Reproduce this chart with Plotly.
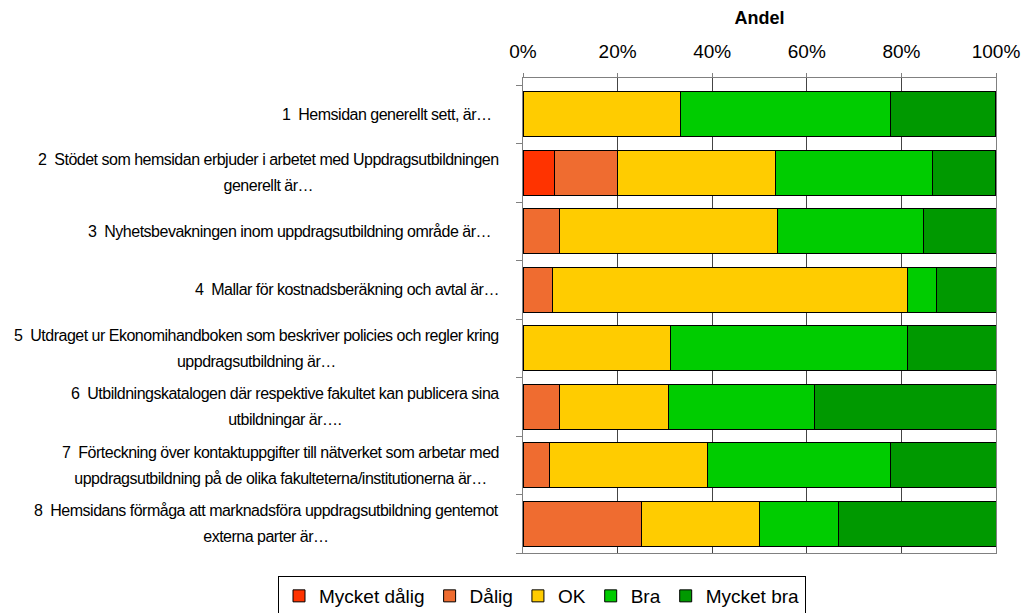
import plotly.graph_objects as go

# ---- data ----
questions = [
    "1\u00a0 Hemsidan generellt sett, är…\u00a0\u00a0",
    "2\u00a0 Stödet som hemsidan erbjuder i arbetet med Uppdragsutbildningen<br>generellt är…",
    "3\u00a0 Nyhetsbevakningen inom uppdragsutbildning område är…\u00a0\u00a0",
    "4\u00a0 Mallar för kostnadsberäkning och avtal är…",
    "5\u00a0 Utdraget ur Ekonomihandboken som beskriver policies och regler kring<br>uppdragsutbildning är…",
    "6\u00a0 Utbildningskatalogen där respektive fakultet kan publicera sina<br>utbildningar är….",
    "7\u00a0 Förteckning över kontaktuppgifter till nätverket som arbetar med<br>uppdragsutbildning på de olika fakulteterna/institutionerna är…",
    "8\u00a0 Hemsidans förmåga att marknadsföra uppdragsutbildning gentemot<br>externa parter är…",
]
series_names = ["Mycket dålig", "Dålig", "OK", "Bra", "Mycket bra"]
mycket_dalig = [None, 6.7, None, None, None, None, None, None]
dalig = [None, 13.3, 7.7, 6.25, None, 7.7, 5.6, 25.0]
ok = [33.3, 33.3, 46.2, 75.0, 31.25, 23.1, 33.3, 25.0]
bra = [44.4, 33.3, 30.8, 6.25, 50.0, 30.8, 38.9, 16.7]
mycket_bra = [22.2, 13.3, 15.4, 12.5, 18.75, 38.5, 22.2, 33.3]
x_ticks = [0, 20, 40, 60, 80, 100]
colors = ["#FF3300", "#EF6C30", "#FFCC00", "#00CC00", "#009900"]

series_values = [mycket_dalig, dalig, ok, bra, mycket_bra]
positions = list(range(len(questions)))

fig = go.Figure()
for name, vals, col in zip(series_names, series_values, colors):
    fig.add_trace(go.Bar(
        y=positions, x=vals, name=name, orientation="h",
        width=0.77,
        marker=dict(color=col, line=dict(color="#000000", width=1)),
    ))

label_font = "Liberation Sans, Arial"
for pos, q in zip(positions, questions):
    lines = q.split("<br>")
    txt = "<br>".join(
        f"<span style='font-size:16px;letter-spacing:-0.5px'>{ln}</span>" for ln in lines
    )
    fig.add_annotation(
        x=0, xref="paper", y=pos, yref="y",
        text=txt, showarrow=False, xanchor="right", yanchor="middle",
        align="center", xshift=-22,
        font=dict(family=label_font, size=20, color="#000000"),
    )

fig.update_layout(
    width=1030, height=613,
    barmode="stack",
    plot_bgcolor="#FFFFFF", paper_bgcolor="#FFFFFF",
    margin=dict(l=523, r=34, t=78, b=60, autoexpand=False),
    font=dict(family="Liberation Sans, Arial", color="#000000"),
    legend=dict(
        orientation="h", x=(278 - 523) / 473, xanchor="left",
        y=(553 - 576) / 475, yanchor="top",
        bordercolor="#000000", borderwidth=1,
        font=dict(size=19, family="Liberation Sans, Arial"),
        traceorder="normal",
    ),
)
fig.update_xaxes(
    side="top", range=[0, 100], tickvals=x_ticks,
    ticktext=[f"{v}%" for v in x_ticks],
    tickfont=dict(size=19),
    ticks="outside", ticklen=4, tickcolor="#808080",
    ticklabelstandoff=7,
    showgrid=True, gridcolor="#444444", gridwidth=1,
    showline=True, linecolor="#808080", linewidth=1, mirror=True,
    zeroline=False,
    title=dict(text="<b>Andel</b>", font=dict(size=18), standoff=12),
)
fig.update_yaxes(
    range=[7.5, -0.62], tickvals=[p - 0.5 for p in positions] + [7.5],
    ticktext=[""] * (len(positions) + 1),
    ticks="outside", ticklen=6, tickcolor="#808080",
    showgrid=False, zeroline=False,
    showline=True, linecolor="#808080", linewidth=1, mirror=True,
)

fig.write_html("out.html", config={"displayModeBar": False},
               post_script="document.body.style.margin='0';")
